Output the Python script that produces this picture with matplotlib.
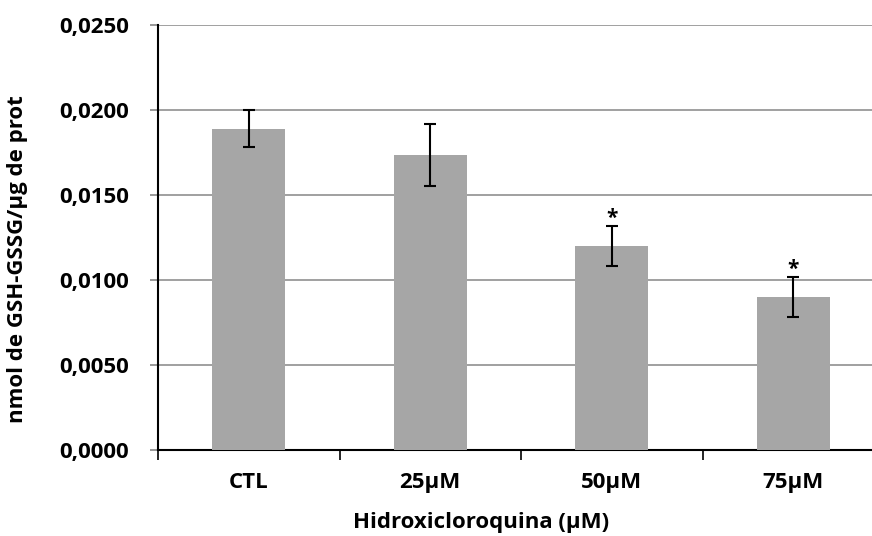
import matplotlib.pyplot as plt
import numpy as np

# datos
categorias = ["CTL", "25µM", "50µM", "75µM"]
valores = [0.0189, 0.01735, 0.0120, 0.0090]
errores = [0.00108, 0.00183, 0.00118, 0.00118]
significativo = [False, False, True, True]

plt.rcParams['font.family'] = ['Open Sans', 'DejaVu Sans']
plt.rcParams['font.weight'] = 'bold'

fig = plt.figure(figsize=(8.72, 5.36), dpi=100)
ax = fig.add_axes([158/872, 86/536, 726/872, 425/536])

x = np.arange(len(categorias))
ax.bar(x, valores, width=0.4, color='#A6A6A6', zorder=3)
ax.errorbar(x, valores, yerr=errores, fmt='none', ecolor='black',
            elinewidth=1.5, capsize=4.5, capthick=1.5, zorder=4)

# asteriscos
for xi, v, e, s in zip(x, valores, errores, significativo):
    if s:
        ax.annotate('*', (xi, v + e), xytext=(0, -2), textcoords='offset points',
                    ha='center', va='bottom', fontsize=15, fontweight='bold')

ax.set_xlim(-0.5, 3.5)
ax.set_ylim(0, 0.025)
ax.set_yticks(np.arange(0, 0.0251, 0.005))
ax.set_yticklabels([f"{v:.4f}".replace('.', ',') for v in np.arange(0, 0.0251, 0.005)])
ax.yaxis.grid(True, color='#868686', linewidth=1.1, zorder=0)
ax.set_axisbelow(True)

ax.set_xticks(x)
ax.set_xticklabels(categorias)
ax.set_xticks([-0.5, 0.5, 1.5, 2.5], minor=True)
ax.tick_params(axis='x', which='major', length=0, pad=16, labelsize=16)
ax.tick_params(axis='x', which='minor', length=7, width=1.2, color='black')
ax.tick_params(axis='y', length=6, width=1.2, color='#868686', pad=15, labelsize=16)

for s in ['top', 'right']:
    ax.spines[s].set_visible(False)
for s in ['left', 'bottom']:
    ax.spines[s].set_linewidth(1.5)

ax.set_xlabel("Hidroxicloroquina (µM)", fontsize=16, fontweight='bold')
ax.xaxis.set_label_coords((481-158)/726, -0.146)
ax.set_ylabel("nmol de GSH-GSSG/µg de prot", fontsize=16, fontweight='bold')
ax.yaxis.set_label_coords((28-158)/726, (450-259)/425)

plt.savefig('out.png', dpi=100)
